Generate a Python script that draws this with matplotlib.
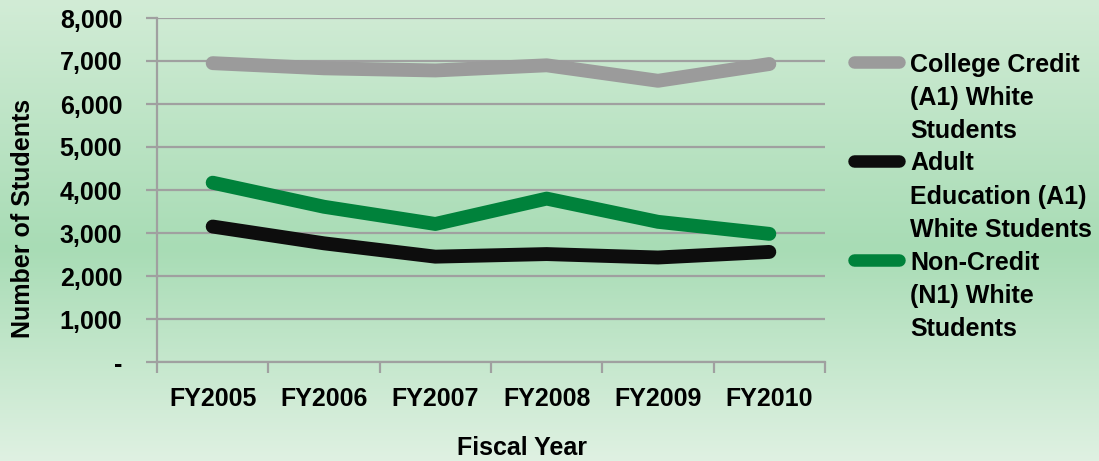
import matplotlib
matplotlib.use("Agg")
import matplotlib.pyplot as plt
import numpy as np
from matplotlib.colors import LinearSegmentedColormap
from matplotlib.lines import Line2D
from matplotlib.ticker import FuncFormatter

# Enrollment of white students by fiscal year
years = ["FY2005", "FY2006", "FY2007", "FY2008", "FY2009", "FY2010"]
college_credit = [6950, 6830, 6780, 6900, 6540, 6930]
adult_education = [3150, 2760, 2450, 2510, 2430, 2560]
non_credit = [4170, 3610, 3210, 3800, 3260, 2980]

series_labels = [
    ["College Credit", "(A1) White", "Students"],
    ["Adult", "Education (A1)", "White Students"],
    ["Non-Credit", "(N1) White", "Students"],
]
series_colors = ["#9b9b9b", "#0d0d0d", "#00823b"]

plt.rcParams["font.family"] = ["Liberation Sans", "DejaVu Sans"]
plt.rcParams["font.weight"] = "bold"

W, H = 1099, 461
FS = 18
fig = plt.figure(figsize=(W / 100, H / 100), dpi=100)

# vertical green gradient behind everything
bg = fig.add_axes([0, 0, 1, 1], zorder=0)
cmap = LinearSegmentedColormap.from_list(
    "bg", [(0.0, "#dff1e2"), (0.46, "#a8dcb5"), (1.0, "#d2ecd6")]
)
grad = np.linspace(0, 1, 256).reshape(-1, 1)
bg.imshow(grad, aspect="auto", cmap=cmap, extent=[0, 1, 0, 1], origin="lower")
bg.set_xlim(0, 1)
bg.set_ylim(0, 1)
bg.set_axis_off()

left, right = 157 / W, 825 / W
bottom, top = 1 - 362 / H, 1 - 18 / H
ax = fig.add_axes([left, bottom, right - left, top - bottom], zorder=1)
ax.patch.set_alpha(0)

x = np.arange(len(years))
for vals, col in zip([college_credit, adult_education, non_credit], series_colors):
    ax.plot(x, vals, color=col, lw=10, solid_capstyle="round",
            solid_joinstyle="round", zorder=3)

ax.set_xlim(-0.5, len(years) - 0.5)
ax.set_ylim(0, 8000)
ax.set_yticks(np.arange(0, 8001, 1000))
ax.yaxis.set_major_formatter(
    FuncFormatter(lambda v, p: "-" if v == 0 else f"{int(v):,}")
)
ax.grid(axis="y", color="#a0a0a0", lw=1.6, zorder=1)
ax.set_axisbelow(True)

ax.set_xticks(np.arange(-0.5, len(years), 1.0), minor=False)
ax.set_xticklabels([])
ax.set_xticks(x, minor=True)
ax.set_xticklabels(years, minor=True)
ax.tick_params(axis="x", which="major", length=8, width=1.6, color="#a0a0a0")
ax.tick_params(axis="x", which="minor", length=0, pad=18, labelsize=FS)
ax.tick_params(axis="y", length=8, width=1.6, color="#a0a0a0", pad=17,
               labelsize=FS)
for lab in ax.get_xticklabels(minor=True) + ax.get_yticklabels():
    lab.set_fontweight("bold")

for s in ["top", "right"]:
    ax.spines[s].set_visible(False)
for s in ["left", "bottom"]:
    ax.spines[s].set_color("#a0a0a0")
    ax.spines[s].set_linewidth(1.6)

fig.text(522 / W, 1 - 448 / H, "Fiscal Year", ha="center", va="center",
         fontsize=FS, fontweight="bold")
fig.text(23 / W, 1 - 218 / H, "Number of Students", ha="center", va="center",
         rotation=90, fontsize=FS, fontweight="bold")

# legend: key line beside the first line of each wrapped label
line_step = 33
y0 = 62
row = 0
for lines, col in zip(series_labels, series_colors):
    yk = 1 - (y0 + row * line_step) / H
    fig.add_artist(Line2D([854 / W, 899 / W], [yk, yk], color=col, lw=9,
                          solid_capstyle="round", transform=fig.transFigure))
    for ln in lines:
        yy = 1 - (y0 + row * line_step) / H
        fig.text(910 / W, yy, ln, ha="left", va="center_baseline",
                 fontsize=FS, fontweight="bold")
        row += 1

fig.savefig("out.png", dpi=100)
